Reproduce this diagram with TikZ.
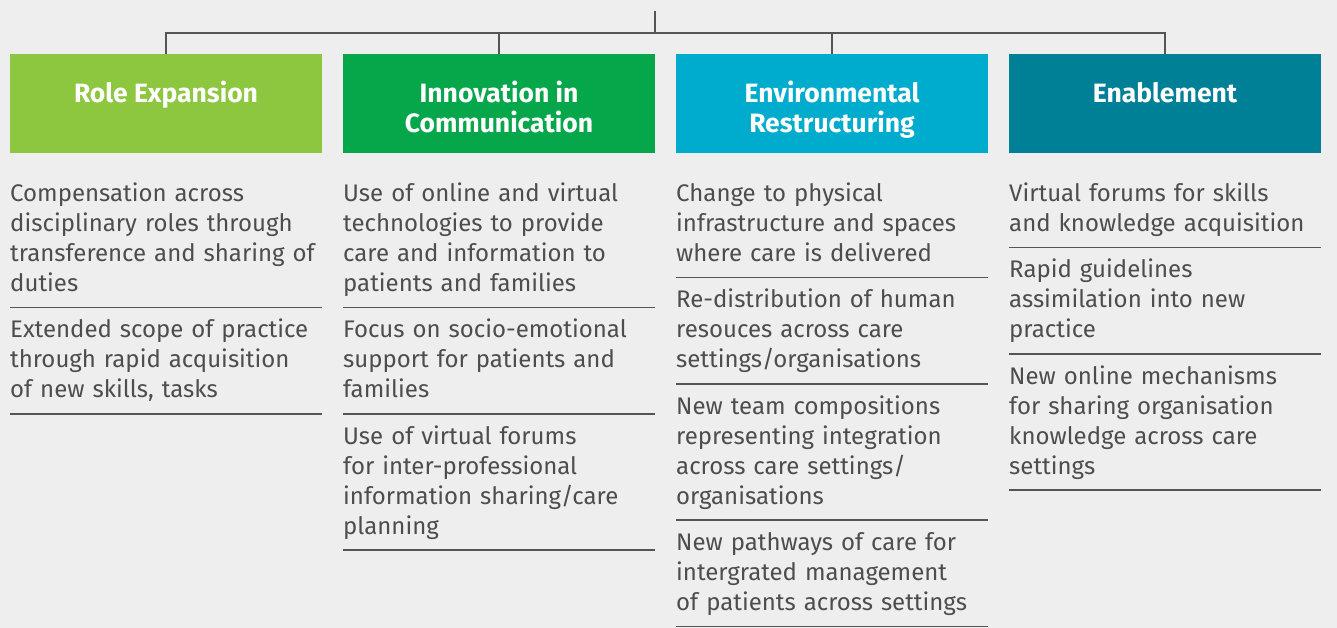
\documentclass[tikz,border=0pt]{standalone}
\usepackage{fontspec}
\setmainfont{Fira Sans}
\definecolor{bgc}{HTML}{EEEEEE}
\definecolor{linec}{HTML}{555555}
\definecolor{txtc}{HTML}{4D4D4D}
\definecolor{cone}{HTML}{8DC63F}
\definecolor{ctwo}{HTML}{06A64B}
\definecolor{cthree}{HTML}{00ACCD}
\definecolor{cfour}{HTML}{008096}
\newcommand\itm[1]{\rule{0pt}{30pt}#1\rule[-16pt]{0pt}{1pt}}
\begin{document}
\begin{tikzpicture}[x=1pt,y=-1pt,
  headbox/.style={draw=none,fill=#1,minimum width=312pt,minimum height=99pt,inner sep=0pt,anchor=north},
  headtxt/.style={anchor=north,inner sep=0pt,align=center,text=white,font=\fontsize{26.5}{30}\selectfont\bfseries,yshift=-26pt},
  itembox/.style={anchor=north west,inner sep=0pt,text width=312pt,align=left,text=txtc,font=\fontsize{24}{30}\selectfont},
  sepline/.style={draw=linec,line width=1.5pt},
  treeline/.style={draw=linec,line width=2.5pt}]
\useasboundingbox (0,0) rectangle (1337,628);
\fill[bgc] (0,0) rectangle (1337,628);

% headings
\node[headbox=cone]   (h1) at (166,54) {};
\node[headbox=ctwo]   (h2) at (499,54) {};
\node[headbox=cthree] (h3) at (832,54) {};
\node[headbox=cfour]  (h4) at (1165,54) {};
\node[headtxt] (t1) at (h1.north) {\rule{0pt}{22pt}Role Expansion};
\node[headtxt] (t2) at (h2.north) {\rule{0pt}{22pt}Innovation in\\Communication};
\node[headtxt] (t3) at (h3.north) {\rule{0pt}{22pt}Environmental\\Restructuring};
\node[headtxt] (t4) at (h4.north) {\rule{0pt}{22pt}Enablement};

% tree
\coordinate (root) at (655,11);
\coordinate (bar) at (655,33);
\draw[treeline] (root) -- (bar);
\draw[treeline] (h1.north) |- (bar) -| (h4.north);
\draw[treeline] (h2.north) -- (h2.north |- bar);
\draw[treeline] (h3.north) -- (h3.north |- bar);

% column 1
\node[itembox] (a1) at (10,171) {\itm{Compensation across\\disciplinary roles through\\transference and sharing of\\duties}};
\node[itembox] (a2) at (a1.south west) {\itm{Extended scope of practice\\through rapid acquisition\\of new skills, tasks}};
\draw[sepline] (a1.south west) -- (a1.south east);
\draw[sepline] (a2.south west) -- (a2.south east);

% column 2
\node[itembox] (b1) at (343,171) {\itm{Use of online and virtual\\technologies to provide\\care and information to\\patients and families}};
\node[itembox] (b2) at (b1.south west) {\itm{Focus on socio-emotional\\support for patients and\\families}};
\node[itembox] (b3) at (b2.south west) {\itm{Use of virtual forums\\for inter-professional\\information sharing/care\\planning}};
\draw[sepline] (b1.south west) -- (b1.south east);
\draw[sepline] (b2.south west) -- (b2.south east);
\draw[sepline] (b3.south west) -- (b3.south east);

% column 3
\node[itembox] (c1) at (676,171) {\itm{Change to physical\\infrastructure and spaces\\where care is delivered}};
\node[itembox] (c2) at (c1.south west) {\itm{Re-distribution of human\\resouces across care\\settings/organisations}};
\node[itembox] (c3) at (c2.south west) {\itm{New team compositions\\representing integration\\across care settings/\\organisations}};
\node[itembox] (c4) at (c3.south west) {\itm{New pathways of care for\\intergrated management\\of patients across settings}};
\draw[sepline] (c1.south west) -- (c1.south east);
\draw[sepline] (c2.south west) -- (c2.south east);
\draw[sepline] (c3.south west) -- (c3.south east);
\draw[sepline] (c4.south west) -- (c4.south east);

% column 4
\node[itembox] (d1) at (1009,171) {\itm{Virtual forums for skills\\and knowledge acquisition}};
\node[itembox] (d2) at (d1.south west) {\itm{Rapid guidelines\\assimilation into new\\practice}};
\node[itembox] (d3) at (d2.south west) {\itm{New online mechanisms\\for sharing organisation\\knowledge across care\\settings}};
\draw[sepline] (d1.south west) -- (d1.south east);
\draw[sepline] (d2.south west) -- (d2.south east);
\draw[sepline] (d3.south west) -- (d3.south east);
\end{tikzpicture}
\end{document}
